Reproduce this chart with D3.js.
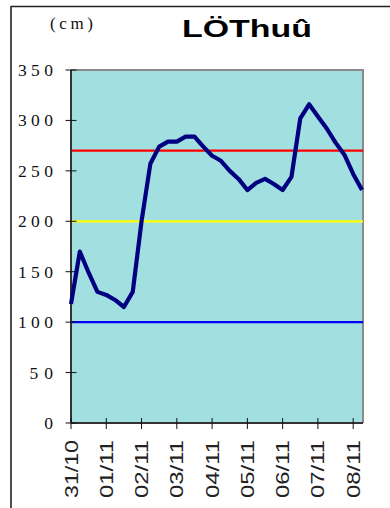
<!DOCTYPE html>
<html>
<head>
<meta charset="utf-8">
<script src="https://cdn.jsdelivr.net/npm/d3@7"></script>
<style>
html,body{margin:0;padding:0;background:#fff;}
svg{display:block;}
.serif{font-family:"Liberation Serif","Times New Roman",serif;}
.sans{font-family:"Liberation Sans",Arial,sans-serif;}
</style>
</head>
<body>
<svg id="chart" width="390" height="508"></svg>
<script>
// Data: water level (cm), 6-hourly readings from 31/10 to 08/11
const levels = [118,170,149,130,127,122,115,130,200,257,274,279,279,284,284,274,265,260,250,242,231,238,242,237,231,244,302,316,304,292,278,266,247,231];
const dateLabels = ["31/10","01/11","02/11","03/11","04/11","05/11","06/11","07/11","08/11"];
const stepsPerDay = 4;
const yTicks = [0,50,100,150,200,250,300,350];
const thresholds = [
  {value:270, color:"#ff0000"},
  {value:200, color:"#ffff00"},
  {value:100, color:"#0000ff"}
];
const title = "LÖThuû";
const unit = "(cm)";

const svg = d3.select("#chart");
const L = 71, R = 363, T = 70, B = 423;

const x = d3.scaleLinear().domain([0, levels.length - 1]).range([L, 362]);
const y = d3.scaleLinear().domain([0, 350]).range([B, T]);

// outer frame
svg.append("line").attr("x1",11).attr("x2",11).attr("y1",6).attr("y2",508).attr("stroke","#222").attr("stroke-width",1.6);
svg.append("line").attr("x1",11).attr("x2",390).attr("y1",6.5).attr("y2",6.5).attr("stroke","#222").attr("stroke-width",1.6);

// plot area
svg.append("rect").attr("x",L).attr("y",T).attr("width",R-L).attr("height",B-T).attr("fill","#a2dfe0");
svg.append("path").attr("d",`M${L},${T}H${R}V${B}`).attr("fill","none").attr("stroke","#8a8a8a").attr("stroke-width",2);

// threshold lines
svg.selectAll(".thr").data(thresholds).enter().append("line")
  .attr("x1",L).attr("x2",R)
  .attr("y1",d=>y(d.value)).attr("y2",d=>y(d.value))
  .attr("stroke",d=>d.color).attr("stroke-width",2.2);

// axes
svg.append("line").attr("x1",L).attr("x2",L).attr("y1",T).attr("y2",B).attr("stroke","#333").attr("stroke-width",2);
svg.append("line").attr("x1",L).attr("x2",R).attr("y1",B).attr("y2",B).attr("stroke","#333").attr("stroke-width",2.2);

// y ticks & labels
const yg = svg.append("g");
yTicks.forEach(v => {
  yg.append("line").attr("x1",L-5.5).attr("x2",L+5.5).attr("y1",y(v)).attr("y2",y(v)).attr("stroke","#111").attr("stroke-width",1);
  const s = String(v);
  yg.append("text").attr("class","serif").attr("x",53).attr("y",y(v)+6)
    .attr("text-anchor","end")
    .attr("font-size",17.5)
    .attr("textLength", s.length*11.7)
    .attr("lengthAdjust","spacing")
    .attr("fill","#111")
    .text(s);
});

// x ticks & labels
const xg = svg.append("g");
dateLabels.forEach((lab,i) => {
  const xx = x(i*stepsPerDay);
  xg.append("line").attr("x1",xx).attr("x2",xx).attr("y1",B-5).attr("y2",B+6).attr("stroke","#111").attr("stroke-width",1);
  xg.append("text").attr("class","sans")
    .attr("transform",`translate(${xx+6.5},498) rotate(-90)`)
    .attr("font-size",18)
    .attr("textLength",58)
    .attr("lengthAdjust","spacingAndGlyphs")
    .attr("fill","#222")
    .text(lab);
});

// series line
const line = d3.line().x((d,i)=>x(i)).y(d=>y(d));
svg.append("path").datum(levels).attr("d",line)
  .attr("fill","none").attr("stroke","#000080").attr("stroke-width",4.2)
  .attr("stroke-linejoin","round").attr("stroke-linecap","butt");

// title
svg.append("text").attr("class","sans").attr("x",182).attr("y",37)
  .attr("font-weight","bold").attr("font-size",23)
  .attr("textLength",130).attr("lengthAdjust","spacingAndGlyphs")
  .attr("fill","#000").text(title);

svg.append("text").attr("class","serif").attr("x",50).attr("y",29)
  .attr("font-size",17)
  .attr("textLength",43).attr("lengthAdjust","spacing")
  .attr("fill","#111").text(unit);
</script>
</body>
</html>
